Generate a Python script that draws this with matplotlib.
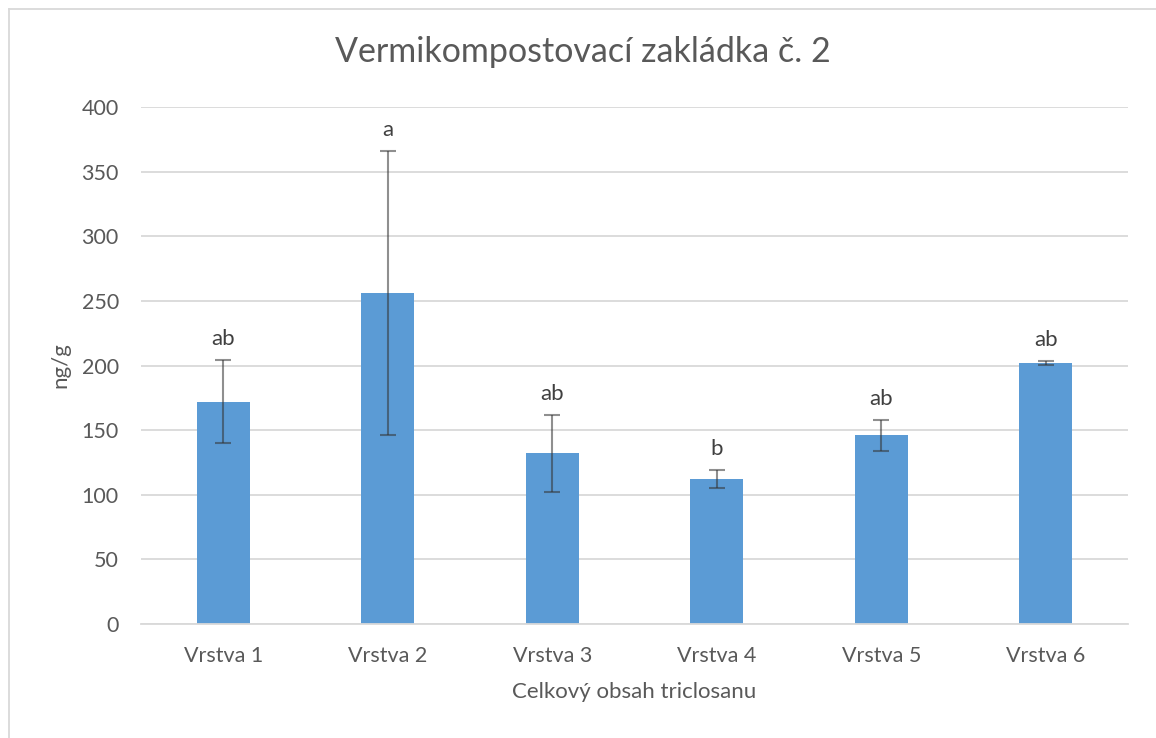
import matplotlib
matplotlib.use('Agg')
import matplotlib.pyplot as plt
from matplotlib.lines import Line2D

# Data
layers = ['Vrstva 1', 'Vrstva 2', 'Vrstva 3', 'Vrstva 4', 'Vrstva 5', 'Vrstva 6']
means = [172, 256, 132, 112, 146, 202]
errors = [32, 110, 30, 7, 12, 1.5]
letters = ['ab', 'a', 'ab', 'b', 'ab', 'ab']

W, H = 1156, 738
plt.rcParams['font.family'] = ['Lato', 'DejaVu Sans']
text_color = '#595959'

fig = plt.figure(figsize=(W / 100, H / 100), dpi=100)
ax = fig.add_axes([141 / W, 1 - 624 / H, (1128 - 141) / W, (624 - 107) / H])

x = range(len(layers))
ax.bar(x, means, width=0.32, color='#5b9bd5', zorder=2)
ax.errorbar(x, means, yerr=errors, fmt='none', ecolor='#333333', alpha=0.55,
            elinewidth=1.5, capsize=5.5, capthick=1.5, zorder=3)

for i, (m, e, t) in enumerate(zip(means, errors, letters)):
    ax.annotate(t, (i, m + e), xytext=(0, 15), textcoords='offset points',
                ha='center', va='center', fontsize=16, color='#404040')

ax.set_xlim(-0.5, len(layers) - 0.5)
ax.set_ylim(0, 400)
ax.set_yticks(range(0, 401, 50))
ax.set_xticks(list(x))
ax.set_xticklabels(layers)
ax.grid(axis='y', color='#d9d9d9', linewidth=1.3, zorder=0)
for s in ['top', 'right', 'left']:
    ax.spines[s].set_visible(False)
ax.spines['bottom'].set_color('#d9d9d9')
ax.spines['bottom'].set_linewidth(1.3)
ax.tick_params(axis='both', length=0, labelsize=15.5, labelcolor=text_color)
ax.tick_params(axis='y', pad=16)
ax.tick_params(axis='x', pad=16)

ax.set_xlabel('Celkový obsah triclosanu', fontsize=16, color=text_color, labelpad=11)
ax.set_ylabel('ng/g', fontsize=16, color=text_color, labelpad=8)
fig.text(583 / W, 1 - 52 / H, 'Vermikompostovací zakládka č. 2', ha='center', va='center',
         fontsize=24.5, color=text_color)

# chart area frame (only left and top edges visible in the crop)
fig.add_artist(Line2D([8.5 / W, 8.5 / W], [0, 1 - 9 / H], transform=fig.transFigure,
                      color='#d9d9d9', linewidth=1.3))
fig.add_artist(Line2D([8.5 / W, 1], [1 - 9 / H, 1 - 9 / H], transform=fig.transFigure,
                      color='#d9d9d9', linewidth=1.3))

fig.savefig('out.png', dpi=100)
